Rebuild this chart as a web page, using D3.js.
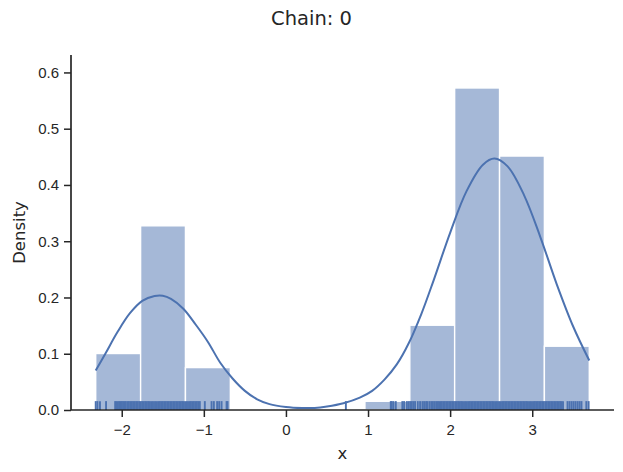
<!DOCTYPE html>
<html>
<head>
<meta charset="utf-8">
<script src="https://cdn.jsdelivr.net/npm/d3@7"></script>
<style>
  body { margin: 0; background: #fff; }
  svg { display: block; font-family: "DejaVu Sans", sans-serif; }
</style>
</head>
<body>
<div id="chart"></div>
<script>
// histogram bins (edges) and density heights
const binEdges = [-2.317, -1.770, -1.224, -0.677, -0.131, 0.416, 0.962, 1.509, 2.055, 2.602, 3.148, 3.695];
const binDensity = [0.1004, 0.3274, 0.0754, 0, 0, 0, 0.0155, 0.1507, 0.5724, 0.4514, 0.1134];

// kde curve
const kdeX = [-2.317, -2.2, -2.05, -1.9, -1.75, -1.6, -1.5, -1.4, -1.25, -1.1, -0.95, -0.8, -0.65, -0.5, -0.35, -0.2,
  0.0, 0.2, 0.35, 0.5, 0.7, 0.9, 1.05, 1.2, 1.35, 1.5, 1.65, 1.8, 2.0, 2.2, 2.4, 2.54, 2.7, 2.9, 3.1, 3.3, 3.5, 3.695];
const kdeY = [0.070, 0.100, 0.139, 0.172, 0.194, 0.2025, 0.203, 0.1975, 0.180, 0.152, 0.121, 0.084, 0.056, 0.034, 0.019, 0.0105,
  0.0055, 0.0036, 0.0036, 0.0062, 0.012, 0.022, 0.034, 0.054, 0.081, 0.120, 0.171, 0.231, 0.315, 0.389, 0.436, 0.447, 0.433, 0.382, 0.307, 0.223, 0.148, 0.088];

// rug samples
const rugLeft = [-2.317, -2.296, -2.265, -2.191, -2.08, -2.063, -2.046, -2.03, -2.014, -1.998, -1.982, -1.966, -1.95,
  -1.93, -1.913, -1.895, -1.877, -1.86, -1.841, -1.823, -1.806, -1.787, -1.769, -1.752, -1.733, -1.715, -1.697, -1.679,
  -1.661, -1.643, -1.625, -1.607, -1.589, -1.571, -1.553, -1.535, -1.517, -1.499, -1.481, -1.463, -1.445, -1.427, -1.409,
  -1.391, -1.373, -1.355, -1.337, -1.319, -1.301, -1.283, -1.265, -1.247, -1.229, -1.211, -1.193, -1.175, -1.157, -1.139,
  -1.121, -1.103, -1.085, -1.067, -1.049,
  -0.988, -0.906, -0.878, -0.838, -0.813, -0.784, -0.723, -0.711];
const rugRight = [0.73, 1.277, 1.289, 1.309, 1.338, 1.418, 1.439, 1.472, 1.492, 1.512, 1.533, 1.553, 1.573, 1.606, 1.634,
  1.662, 1.683, 1.707, 1.723, 1.748, 1.77, 1.79, 1.81, 1.83, 1.85, 1.865,
  1.882, 1.899, 1.917, 1.935, 1.953, 1.971, 1.989, 2.007, 2.025, 2.043, 2.061, 2.079, 2.097, 2.115, 2.133, 2.151, 2.169,
  2.187, 2.205, 2.223, 2.241, 2.259, 2.277, 2.295, 2.313, 2.331, 2.349, 2.367, 2.385, 2.403, 2.421, 2.439, 2.457, 2.475,
  2.493, 2.511, 2.529, 2.547, 2.565, 2.583, 2.601, 2.619, 2.637, 2.655, 2.673, 2.691, 2.709, 2.727, 2.745, 2.763, 2.781,
  2.799, 2.817, 2.835, 2.853, 2.871, 2.889, 2.907, 2.925, 2.943, 2.961, 2.979, 2.997, 3.015, 3.033, 3.051, 3.069, 3.087,
  3.105, 3.123, 3.141, 3.159, 3.177, 3.195, 3.213, 3.231, 3.249, 3.267, 3.285, 3.303, 3.321, 3.339, 3.357, 3.375,
  3.43, 3.455, 3.48, 3.504, 3.528, 3.553, 3.577, 3.60, 3.659, 3.687];

const xTicks = [-2, -1, 0, 1, 2, 3];
const yTicks = [0.0, 0.1, 0.2, 0.3, 0.4, 0.5, 0.6];

const W = 623, H = 472;
const mLeft = 71, mRight = 614, mTop = 55, mBottom = 410;
const blue = '#4c72b0';
const ink = '#262626';

const svg = d3.select('#chart').append('svg')
  .attr('width', W)
  .attr('height', H);

const x = d3.scaleLinear().domain([-2.618, 3.996]).range([mLeft, mRight]);
const y = d3.scaleLinear().domain([0, 0.631]).range([mBottom, mTop]);

// bars
const bins = binDensity.map((d, i) => ({ x0: binEdges[i], x1: binEdges[i + 1], v: d }));
svg.append('g').selectAll('rect')
  .data(bins.filter(b => b.v > 0))
  .enter().append('rect')
  .attr('x', d => x(d.x0))
  .attr('y', d => y(d.v))
  .attr('width', d => x(d.x1) - x(d.x0))
  .attr('height', d => y(0) - y(d.v))
  .attr('fill', blue)
  .attr('fill-opacity', 0.5)
  .attr('stroke', '#fff')
  .attr('stroke-width', 1.4);

// kde line
const kde = kdeX.map((v, i) => [v, kdeY[i]]);
svg.append('path')
  .datum(kde)
  .attr('fill', 'none')
  .attr('stroke', blue)
  .attr('stroke-width', 2)
  .attr('d', d3.line().x(d => x(d[0])).y(d => y(d[1])).curve(d3.curveCatmullRom.alpha(0.5)));

// rug
const rugH = (mBottom - mTop) * 0.025;
svg.append('g').selectAll('line')
  .data(rugLeft.concat(rugRight))
  .enter().append('line')
  .attr('x1', d => x(d)).attr('x2', d => x(d))
  .attr('y1', mBottom).attr('y2', mBottom - rugH)
  .attr('stroke', blue)
  .attr('stroke-width', 1.9);

// axes
const xAxis = svg.append('g')
  .attr('transform', `translate(0,${mBottom})`)
  .call(d3.axisBottom(x).tickValues(xTicks).tickSize(7).tickPadding(7)
    .tickFormat(d => d < 0 ? '\u2212' + Math.abs(d) : d));
const yAxis = svg.append('g')
  .attr('transform', `translate(${mLeft},0)`)
  .call(d3.axisLeft(y).tickValues(yTicks).tickSize(7).tickPadding(5)
    .tickFormat(d3.format('.1f')));

xAxis.select('.domain').attr('d', `M${mLeft},0H${mRight}`);
yAxis.select('.domain').attr('d', `M0,${mTop}V${mBottom}`);
[xAxis, yAxis].forEach(g => {
  g.select('.domain').attr('stroke', ink).attr('stroke-width', 1.7);
  g.selectAll('.tick line').attr('stroke', ink).attr('stroke-width', 1.5);
  g.selectAll('.tick text').attr('fill', ink).style('font-size', '15px');
});

svg.append('text')
  .attr('x', (mLeft + mRight) / 2)
  .attr('y', 459)
  .attr('text-anchor', 'middle')
  .attr('fill', ink)
  .style('font-size', '16.5px')
  .text('x');

svg.append('text')
  .attr('transform', `translate(25,${(mTop + mBottom) / 2}) rotate(-90)`)
  .attr('text-anchor', 'middle')
  .attr('fill', ink)
  .style('font-size', '16.5px')
  .text('Density');

svg.append('text')
  .attr('x', W / 2)
  .attr('y', 25)
  .attr('text-anchor', 'middle')
  .attr('fill', ink)
  .style('font-size', '19.5px')
  .text('Chain: 0');
</script>
</body>
</html>
